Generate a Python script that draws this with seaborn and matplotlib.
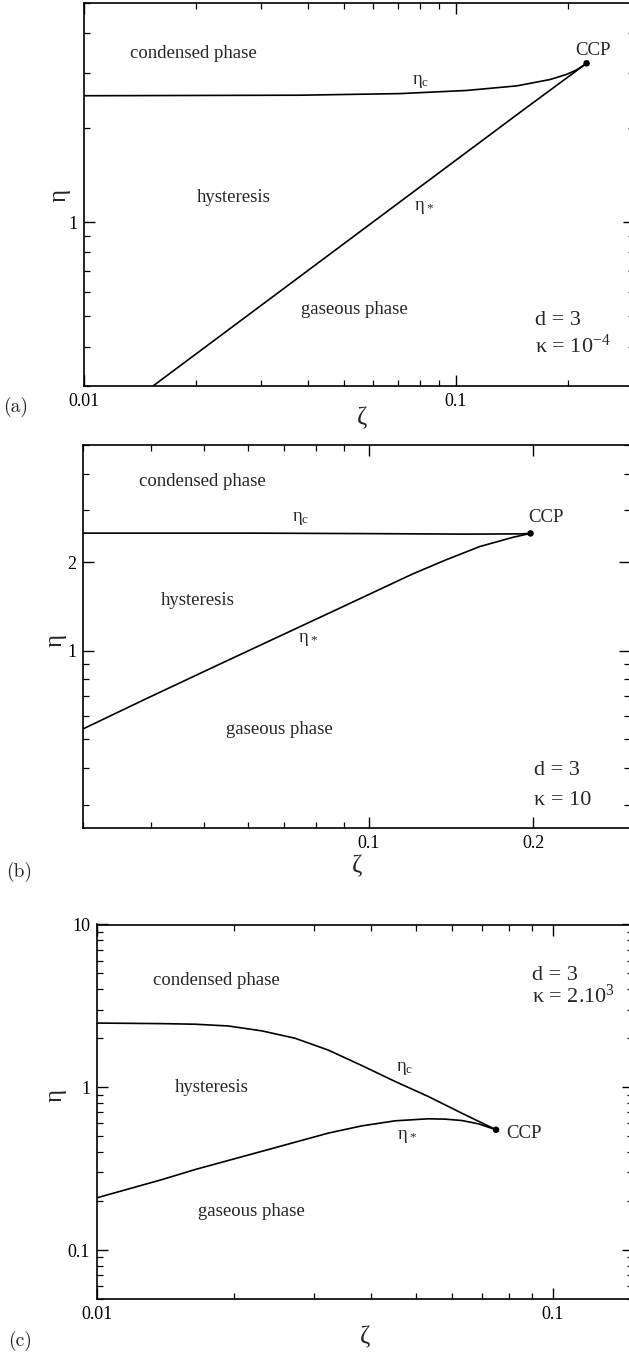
import numpy as np
import matplotlib
matplotlib.use('Agg')
import matplotlib.pyplot as plt
import seaborn as sns
from matplotlib.ticker import FixedLocator, FixedFormatter, LogLocator, NullFormatter

# ---------------------------------------------------------------
# data (d = 3)
# ---------------------------------------------------------------
# (a) kappa = 1e-4
a_zeta_c = [0.0100, 0.0381, 0.0707, 0.1068, 0.1456, 0.1790, 0.1984, 0.2110, 0.2244]
a_eta_c = [2.53, 2.54, 2.57, 2.63, 2.72, 2.85, 2.96, 3.06, 3.21]
a_zeta_s = [0.01533, 0.1517, 0.2244]
a_eta_s = [0.30, 2.28, 3.21]
a_ccp = (0.2244, 3.21)

# (b) kappa = 10
b_zeta_c = [0.030, 0.060, 0.100, 0.150, 0.190, 0.1977]
b_eta_c = [2.51, 2.51, 2.50, 2.49, 2.495, 2.504]
b_zeta_s = [0.030, 0.0392, 0.0519, 0.0687, 0.0910, 0.1205, 0.1388, 0.1597, 0.1838, 0.1977]
b_eta_s = [0.5425, 0.688, 0.879, 1.121, 1.43, 1.826, 2.04, 2.26, 2.43, 2.504]
b_ccp = (0.1977, 2.504)

# (c) kappa = 2.10^3
c_zeta_c = [0.0100, 0.0139, 0.0164, 0.0194, 0.0230, 0.0272, 0.0322, 0.0381,
            0.0451, 0.0533, 0.0631, 0.0751]
c_eta_c = [2.48, 2.46, 2.44, 2.38, 2.22, 2.00, 1.69, 1.36, 1.085, 0.878, 0.694, 0.548]
c_zeta_s = [0.0100, 0.0139, 0.0164, 0.0230, 0.0322, 0.0381, 0.0451, 0.0533,
            0.0580, 0.0631, 0.0687, 0.0751]
c_eta_s = [0.2093, 0.271, 0.312, 0.404, 0.523, 0.579, 0.622, 0.640, 0.637, 0.625, 0.596, 0.548]
c_ccp = (0.0751, 0.548)

# axis ranges and labelled ticks
a_xlim, a_ylim = (0.01, 0.3), (0.3, 5)
b_xlim, b_ylim = (0.03, 0.3), (0.25, 5)
c_xlim, c_ylim = (0.01, 0.15), (0.05, 10)
a_xticks, a_xticklabels = [0.01, 0.1], ['0.01', '0.1']
a_yticks, a_yticklabels = [1], ['1']
b_xticks, b_xticklabels = [0.1, 0.2], ['0.1', '0.2']
b_yticks, b_yticklabels = [1, 2], ['1', '2']
c_xticks, c_xticklabels = [0.01, 0.1], ['0.01', '0.1']
c_yticks, c_yticklabels = [0.1, 1, 10], ['0.1', '1', '10']

# ---------------------------------------------------------------
# style
# ---------------------------------------------------------------
sns.set_style('ticks')
plt.rcParams['font.family'] = ['Liberation Serif', 'DejaVu Serif']
plt.rcParams.update({
    'mathtext.fontset': 'custom',
    'mathtext.rm': 'Liberation Serif',
    'mathtext.it': 'Liberation Serif',
    'mathtext.bf': 'Liberation Serif:bold',
    'font.size': 13,
    'axes.linewidth': 1.2,
    'axes.edgecolor': 'black',
    'xtick.color': 'black',
    'ytick.color': 'black',
})

W, H = 629, 1355
fig = plt.figure(figsize=(W / 100, H / 100), dpi=100)


def px_rect(l, t, r, b):
    return [l / W, 1 - b / H, (r - l) / W, (b - t) / H]


def ftext(x, y, s, **kw):
    kw.setdefault('ha', 'center')
    kw.setdefault('va', 'center')
    kw.setdefault('fontsize', 13.5)
    fig.text(x / W, 1 - y / H, s, **kw)


def draw_panel(rect, zc, ec, zs, es, ccp, xlim, ylim, xt, xtl, yt, ytl):
    ax = fig.add_axes(px_rect(*rect))
    sns.lineplot(x=zc, y=ec, ax=ax, color='black', lw=1.2, sort=False, estimator=None)
    sns.lineplot(x=zs, y=es, ax=ax, color='black', lw=1.2, sort=False, estimator=None)
    sns.scatterplot(x=[ccp[0]], y=[ccp[1]], ax=ax, color='black', s=22, edgecolor='none', zorder=5)
    ax.set_xscale('log')
    ax.set_yscale('log')
    ax.set_xlim(xlim)
    ax.set_ylim(ylim)
    ax.xaxis.set_major_locator(FixedLocator(xt))
    ax.xaxis.set_major_formatter(FixedFormatter(xtl))
    ax.yaxis.set_major_locator(FixedLocator(yt))
    ax.yaxis.set_major_formatter(FixedFormatter(ytl))
    for axis in (ax.xaxis, ax.yaxis):
        axis.set_minor_locator(LogLocator(base=10, subs=np.arange(2, 10), numticks=20))
        axis.set_minor_formatter(NullFormatter())
    ax.tick_params(which='both', direction='in', top=True, right=True, labelsize=13)
    ax.tick_params(which='major', length=8, width=1.0, pad=5)
    ax.tick_params(which='minor', length=4, width=0.9)
    ax.set_xlabel('')
    ax.set_ylabel('')
    return ax


# (a)
ax_a = draw_panel((84, 3, 633.5, 386), a_zeta_c, a_eta_c, a_zeta_s, a_eta_s, a_ccp,
                  a_xlim, a_ylim, a_xticks, a_xticklabels, a_yticks, a_yticklabels)
ftext(193.5, 53, 'condensed phase')
ftext(421, 82, 'η$_{\\rm c}$')
ftext(592.7, 50.5, 'CCP')
ftext(234, 198, 'hysteresis')
ftext(424, 207, 'η$_*$')
ftext(354, 310, 'gaseous phase')
ftext(535, 325, 'd = 3', ha='left', va='baseline', fontsize=16)
ftext(535, 353, 'κ = 10$^{-4}$', ha='left', va='baseline', fontsize=16)
ftext(60, 195, 'η', rotation=90, fontsize=18)
ftext(362, 418, 'ζ', fontsize=18)
ftext(16, 407, '(a)', family='cmr10', fontsize=14)

# (b)
ax_b = draw_panel((83, 445, 629.5, 828), b_zeta_c, b_eta_c, b_zeta_s, b_eta_s, b_ccp,
                  b_xlim, b_ylim, b_xticks, b_xticklabels, b_yticks, b_yticklabels)
ftext(202.3, 481.7, 'condensed phase')
ftext(301, 519, 'η$_{\\rm c}$')
ftext(546, 518, 'CCP')
ftext(197.7, 600.7, 'hysteresis')
ftext(308.3, 640, 'η$_*$')
ftext(279.3, 730, 'gaseous phase')
ftext(533.5, 775, 'd = 3', ha='left', va='baseline', fontsize=16)
ftext(533.5, 805, 'κ = 10', ha='left', va='baseline', fontsize=16)
ftext(56, 640, 'η', rotation=90, fontsize=18)
ftext(357, 866, 'ζ', fontsize=18)
ftext(19, 872, '(b)', family='cmr10', fontsize=14)

# (c)
ax_c = draw_panel((97, 924.5, 633, 1299), c_zeta_c, c_eta_c, c_zeta_s, c_eta_s, c_ccp,
                  c_xlim, c_ylim, c_xticks, c_xticklabels, c_yticks, c_yticklabels)
ftext(216.6, 980.7, 'condensed phase')
ftext(211.7, 1087.3, 'hysteresis')
ftext(404.3, 1068.3, 'η$_{\\rm c}$')
ftext(406.7, 1136.7, 'η$_*$')
ftext(506.7, 1133.3, 'CCP', ha='left')
ftext(251.5, 1211.7, 'gaseous phase')
ftext(531.5, 980, 'd = 3', ha='left', va='baseline', fontsize=16)
ftext(531.5, 1003.3, 'κ = 2.10$^{3}$', ha='left', va='baseline', fontsize=16)
ftext(56, 1095, 'η', rotation=90, fontsize=18)
ftext(365, 1337, 'ζ', fontsize=18)
ftext(20, 1341, '(c)', family='cmr10', fontsize=14)

fig.savefig('out.png', dpi=100)
